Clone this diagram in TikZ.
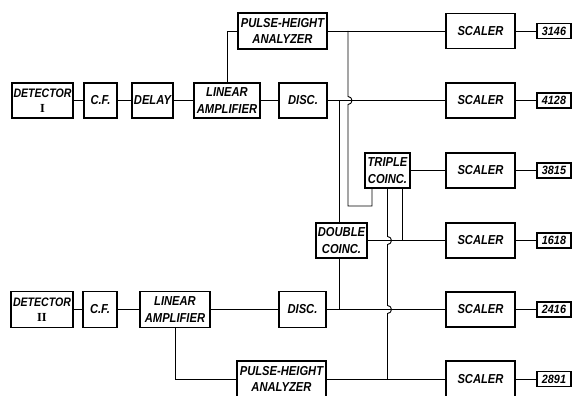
\documentclass[tikz,border=0pt]{standalone}
\usepackage{fontspec}
\setmainfont{Liberation Sans}[FakeStretch=0.86]
\newfontfamily\romfont{Liberation Serif}
\newfontfamily\digfont{Liberation Sans}[FakeStretch=0.9]
\newcommand\lettfont{\fontsize{13}{16.5}\selectfont\bfseries\itshape}
\newcommand\detfont{\fontsize{12.3}{16.5}\selectfont\bfseries\itshape}
\newcommand\numbfont{\digfont\fontsize{12}{12}\selectfont\bfseries\itshape}
\begin{document}
\begin{tikzpicture}[x=1pt,y=-1pt,
  box/.style={draw, line width=1.1pt, inner sep=0pt, align=center, font=\lettfont},
  numbox/.style={draw, line width=1.1pt, inner sep=0pt, align=center, font=\numbfont,
    minimum width=34pt, minimum height=15pt},
  scbox/.style={box, minimum width=69pt, minimum height=35pt},
  wire/.style={line width=0.9pt}]
\useasboundingbox (0,0) rectangle (574,396);
% --- channel I
\node[box, font=\detfont, minimum width=61pt, minimum height=35pt] (det1) at (42.5,100.5) {DETECTOR\\[-1pt]{\romfont\bfseries\upshape I}};
\node[box, minimum width=33pt, minimum height=35pt] (cf1) at (100.5,100.5) {C.F.};
\node[box, minimum width=41pt, minimum height=35pt] (delay) at (152.5,100.5) {DELAY};
\node[box, minimum width=66pt, minimum height=35pt] (lin1) at (227,100.5) {LINEAR\\AMPLIFIER};
\node[box, minimum width=48pt, minimum height=35pt] (disc1) at (303,100.5) {DISC.};
\node[box, minimum width=89pt, minimum height=36pt] (pha1) at (282.5,31) {PULSE-HEIGHT\\ANALYZER};
% --- channel II
\node[box, font=\detfont, minimum width=62pt, minimum height=36pt] (det2) at (42,309.5) {DETECTOR\\[-1pt]{\romfont\bfseries\upshape II}};
\node[box, minimum width=34pt, minimum height=36pt] (cf2) at (100,309.5) {C.F.};
\node[box, minimum width=70pt, minimum height=36pt] (lin2) at (175,309.5) {LINEAR\\AMPLIFIER};
\node[box, minimum width=47pt, minimum height=36pt] (disc2) at (302.5,309.5) {DISC.};
\node[box, minimum width=89pt, minimum height=36pt] (pha2) at (281.5,379) {PULSE-HEIGHT\\ANALYZER};
% --- coincidences
\node[box, minimum width=45pt, minimum height=35pt] (trip) at (387.5,170.5) {TRIPLE\\COINC.};
\node[box, minimum width=51pt, minimum height=35pt] (dbl) at (341.5,240.5) {DOUBLE\\COINC.};
% --- scalers
\node[scbox] (sc1) at (480.5,31) {SCALER};
\node[scbox] (sc2) at (480.5,100.5) {SCALER};
\node[scbox] (sc3) at (480.5,170.5) {SCALER};
\node[scbox] (sc4) at (480.5,240.5) {SCALER};
\node[scbox] (sc5) at (480.5,309.5) {SCALER};
\node[scbox, minimum height=36pt] (sc6) at (480.5,379) {SCALER};
\node[numbox] (n1) at (554,31) {3146};
\node[numbox] (n2) at (554,100.5) {4128};
\node[numbox] (n3) at (554,170.5) {3815};
\node[numbox] (n4) at (554,240.5) {1618};
\node[numbox] (n5) at (554,309.5) {2416};
\node[numbox] (n6) at (554,379) {2891};
% --- chains
\draw[wire] (det1) -- (cf1); \draw[wire] (cf1) -- (delay);
\draw[wire] (delay) -- (lin1); \draw[wire] (lin1) -- (disc1);
\draw[wire] (lin1.north) |- (pha1.west);
\draw[wire] (det2) -- (cf2); \draw[wire] (cf2) -- (lin2);
\draw[wire] (lin2) -- (disc2);
\draw[wire] (lin2.south) |- (pha2.west);
\draw[wire] (pha1.east) -- (sc1.west);
\draw[wire] (disc1.east) -- (sc2.west);
\draw[wire] (trip.east) -- (sc3.west);
\draw[wire] (dbl.east) -- (sc4.west);
\draw[wire] (disc2.east) -- (sc5.west);
\draw[wire] (pha2.east) -- (sc6.west);
\foreach \i in {1,...,6} \draw[wire] (sc\i.east) -- (n\i.west);
% --- junctions
\coordinate (jA) at (348,31);
\coordinate (dN) at ([xshift=-2.5pt]dbl.north);
\coordinate (dS) at ([xshift=-2.5pt]dbl.south);
\coordinate (jD1) at (dN |- disc1.east);
\coordinate (jD2) at (dS |- disc2.east);
\coordinate (tA) at ([xshift=-15.5pt]trip.south);
\coordinate (tB) at (trip.south);
\coordinate (tC) at ([xshift=14.5pt]trip.south);
\coordinate (jB) at (tB |- pha2.east);
\coordinate (jC) at (tC |- dbl.east);
% PHA I -> triple (hops over DISC I line)
\draw[wire] (jA) -- (348,96.5) arc[start angle=90, end angle=-90, radius=4pt]
  -- (348,206) -| (tA);
% DISC I <-> double <-> DISC II
\draw[wire] (jD1) -- (dN);
\draw[wire] (dS) -- (jD2);
% PHA II -> triple (hops over two lines)
\draw[wire] (jB) -- (387.5,313.5) arc[start angle=-90, end angle=90, radius=4pt]
  -- (387.5,244.5) arc[start angle=-90, end angle=90, radius=4pt] -- (tB);
% double -> triple
\draw[wire] (jC) -- (tC);
\end{tikzpicture}
\end{document}
